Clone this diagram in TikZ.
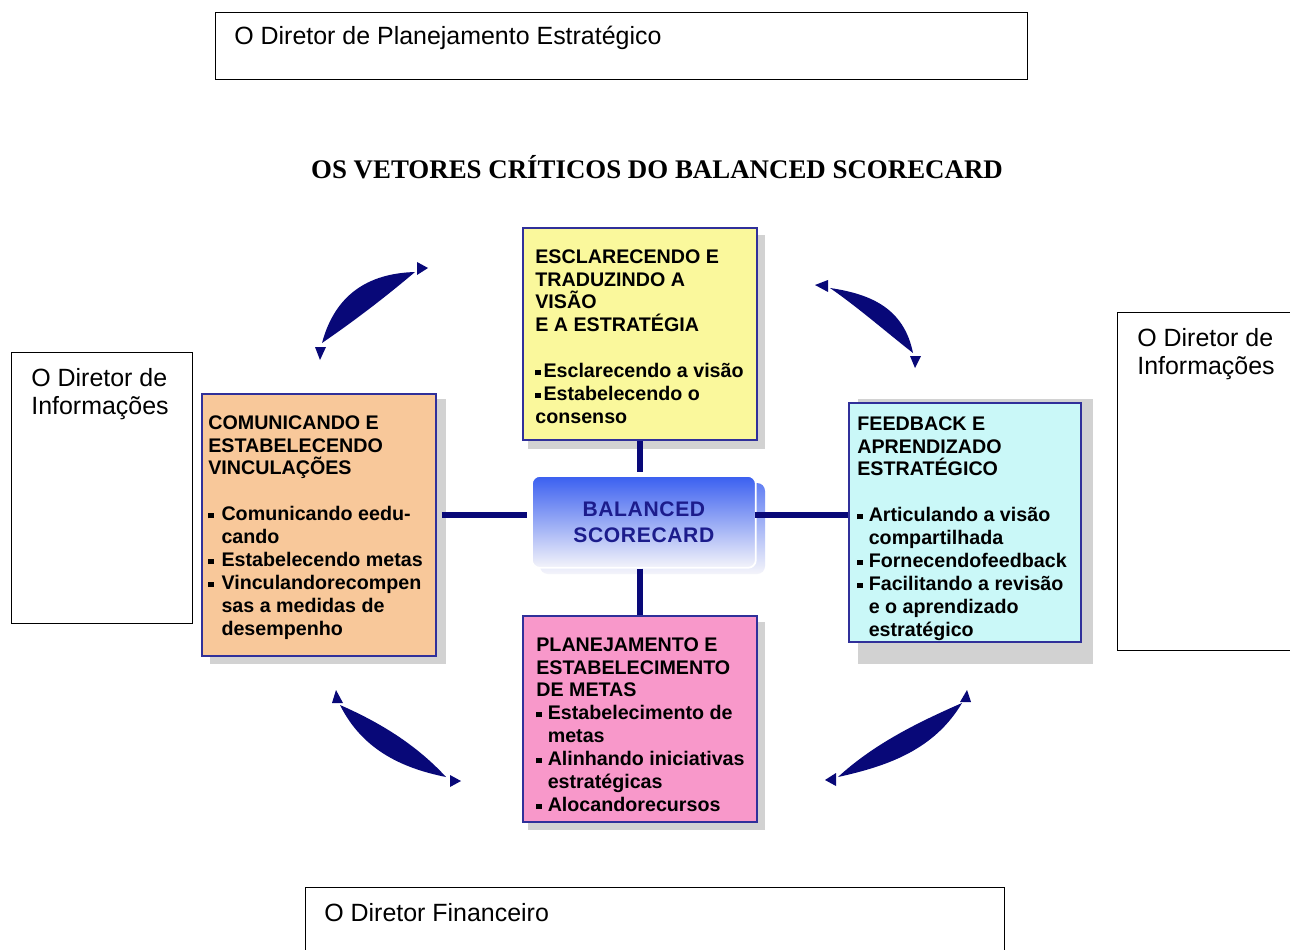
\documentclass[tikz,border=0pt]{standalone}
\usepackage{fontspec}
\setmainfont{Liberation Sans}
\newfontfamily\titlefont{Liberation Serif}
\usetikzlibrary{calc}

\definecolor{navy}{HTML}{080878}
\definecolor{boxline}{HTML}{30309A}
\definecolor{shadowgray}{HTML}{D2D2D2}
\definecolor{yellowfill}{HTML}{FAF89C}
\definecolor{orangefill}{HTML}{F8C89A}
\definecolor{cyanfill}{HTML}{CAF8F8}
\definecolor{pinkfill}{HTML}{F898CA}
\definecolor{bsctop}{HTML}{3A5FF0}
\definecolor{bscbottom}{HTML}{F4F4FA}
\definecolor{bscink}{HTML}{1C1C8C}

% small square bullet
\newcommand\sq{\raisebox{0.12em}{\rule{0.28em}{0.28em}}}

% crescent-shaped arrow body between two points;
% #3,#4 = offsets (px) of the outer curve, #5,#6 = offsets of the inner curve
\newcommand\drawcrescent[6]{%
  \fill[navy]
    (#1) .. controls ($(#1)!1/3!(#2)!#3*0.02cm!90:(#2)$)
             and ($(#1)!2/3!(#2)!#4*0.02cm!90:(#2)$) .. (#2)
         .. controls ($(#1)!2/3!(#2)!#6*0.02cm!90:(#2)$)
             and ($(#1)!1/3!(#2)!#5*0.02cm!90:(#2)$) .. (#1) -- cycle;}

\begin{document}
\begin{tikzpicture}[x=0.02cm, y=-0.02cm,
  dirbox/.style={draw=black, line width=0.8pt, fill=white, anchor=north west,
    inner sep=0pt},
  dirlabel/.style={inner sep=0pt, align=left,
    font=\fontsize{14.2}{15.9}\selectfont},
  cbox/.style={draw=boxline, line width=1.1pt, anchor=north west, inner sep=0pt},
  btext/.style={anchor=north west, inner sep=0pt, align=left,
    font=\bfseries\fontsize{11.2}{13.04}\selectfont},
  conn/.style={draw=navy, line width=0.12cm},
  tip/.style={fill=navy},
]
\useasboundingbox[fill=white] (0,0) rectangle (1290,949);

% ---- directors' boxes ----
\node[dirbox, minimum width=16.24cm, minimum height=1.34cm] (dplan) at (215,12) {};
\node[dirlabel, anchor=base west] (dplantxt) at (234,45)
  {O Diretor de Planejamento Estratégico};

\node[dirbox, minimum width=3.62cm, minimum height=5.42cm] (dinfoL) at (11,352) {};
\node[dirlabel, anchor=north west] (dinfoLtxt) at (31,368)
  {O Diretor de\\Informações};

\node[dirbox, minimum width=4cm, minimum height=6.76cm] (dinfoR) at (1117,312) {};
\node[dirlabel, anchor=north west] (dinfoRtxt) at (1137,328)
  {O Diretor de\\Informações};

\node[dirbox, minimum width=13.98cm, minimum height=1.6cm] (dfin) at (305,887) {};
\node[dirlabel, anchor=base west] (dfintxt) at (324,921) {O Diretor Financeiro};

% ---- title ----
\node[inner sep=0pt, anchor=base,
  font=\titlefont\bfseries\fontsize{15.3}{17}\selectfont] (title) at (657,179)
  {OS VETORES CRÍTICOS DO BALANCED SCORECARD};

% ---- shadows of the four boxes ----
\fill[shadowgray] (528,235) rectangle (765,449);
\fill[shadowgray] (210,399) rectangle (446,664);
\fill[shadowgray] (858,399) rectangle (1093,664);
\fill[shadowgray] (528,622) rectangle (765,830);

% ---- the four perspectives ----
\node[cbox, fill=yellowfill, minimum width=4.68cm, minimum height=4.24cm] (yel) at (522,227) {};
\node[btext] (yeltxt) at (535,249)
  {ESCLARECENDO E\\TRADUZINDO A\\VISÃO\\E A ESTRATÉGIA\\[13.04pt]
   \sq\hspace{1.5pt}Esclarecendo a visão\\
   \sq\hspace{1.5pt}Estabelecendo o\\consenso};

\node[cbox, fill=orangefill, minimum width=4.68cm, minimum height=5.24cm] (ora) at (201,393) {};
\node[btext] (oratxt) at (208,415)
  {COMUNICANDO E\\ESTABELECENDO\\VINCULAÇÕES\\[13.04pt]
   \makebox[7.5pt][l]{\sq}Comunicando eedu-\\
   \hspace*{7.5pt}cando\\
   \makebox[7.5pt][l]{\sq}Estabelecendo metas\\
   \makebox[7.5pt][l]{\sq}Vinculandorecompen\\
   \hspace*{7.5pt}sas a medidas de\\
   \hspace*{7.5pt}desempenho};

\node[cbox, fill=cyanfill, minimum width=4.64cm, minimum height=4.78cm] (cyn) at (848,402) {};
\node[btext] (cyntxt) at (857,416)
  {FEEDBACK E\\APRENDIZADO\\ESTRATÉGICO\\[13.04pt]
   \makebox[6.5pt][l]{\sq}Articulando a visão\\
   \hspace*{6.5pt}compartilhada\\
   \makebox[6.5pt][l]{\sq}Fornecendofeedback\\
   \makebox[6.5pt][l]{\sq}Facilitando a revisão\\
   \hspace*{6.5pt}e o aprendizado\\
   \hspace*{6.5pt}estratégico};

\node[cbox, fill=pinkfill, minimum width=4.68cm, minimum height=4.12cm] (pnk) at (522,615) {};
\node[btext] (pnktxt) at (536,637)
  {PLANEJAMENTO E\\ESTABELECIMENTO\\DE METAS\\
   \makebox[6.5pt][l]{\sq}Estabelecimento de\\
   \hspace*{6.5pt}metas\\
   \makebox[6.5pt][l]{\sq}Alinhando iniciativas\\
   \hspace*{6.5pt}estratégicas\\
   \makebox[6.5pt][l]{\sq}Alocandorecursos};

% ---- central Balanced Scorecard box (two stacked layers) ----
\shade[rounded corners=0.16cm, top color=bsctop!80, bottom color=bscbottom]
  (540,483) rectangle (765,574);
\node[anchor=north west, inner sep=0pt, rounded corners=0.16cm,
  minimum width=4.48cm, minimum height=1.84cm, draw=white, line width=1pt,
  top color=bsctop, bottom color=bscbottom] (bsc) at (531,475) {};
\node[inner sep=0pt, align=center, text=bscink,
  font=\bfseries\fontsize{12}{14.7}\selectfont\addfontfeature{LetterSpace=3}] (bsctxt)
  at (bsc.center) {BALANCED\\SCORECARD};

% ---- connectors ----
\coordinate (midrow) at (0,515);
\draw[conn, shorten >=0.06cm] (yel.south) -- (yel.south |- bsc.north);
\draw[conn] (pnk.north |- bsc.south) -- (pnk.north);
\draw[conn, shorten <=0.1cm, shorten >=0.08cm] (ora.east |- midrow) -- (bsc.west |- midrow);
\draw[conn, shorten <=-0.04cm] (bsc.east |- midrow) -- (cyn.west |- midrow);

% ---- circular arrows ----
\coordinate (tlA) at (322,343);  \coordinate (tlB) at (415,272);
\coordinate (trA) at (830,288);  \coordinate (trB) at (913,353);
\coordinate (blA) at (340,705);  \coordinate (blB) at (446,777);
\coordinate (brA) at (838,777);  \coordinate (brB) at (962,703);

\drawcrescent{tlA}{tlB}{30}{28}{-2}{-2}
\drawcrescent{trA}{trB}{20}{30}{2}{0}
\drawcrescent{blA}{blB}{-24}{-18}{8}{10}
\drawcrescent{brA}{brB}{-16}{-26}{10}{6}

% arrow tips
\fill[tip] (315,347) -- (326,347) -- (320,360) -- cycle;
\fill[tip] (417,262) -- (417,275) -- (428,268) -- cycle;
\fill[tip] (828,280) -- (828,292) -- (815,285) -- cycle;
\fill[tip] (910,356) -- (921,356) -- (915,368) -- cycle;
\fill[tip] (332,703) -- (343,703) -- (336,690) -- cycle;
\fill[tip] (450,775) -- (450,787) -- (461,781) -- cycle;
\fill[tip] (960,702) -- (971,702) -- (967,690) -- cycle;
\fill[tip] (836,773) -- (836,786) -- (825,780) -- cycle;
\end{tikzpicture}
\end{document}
